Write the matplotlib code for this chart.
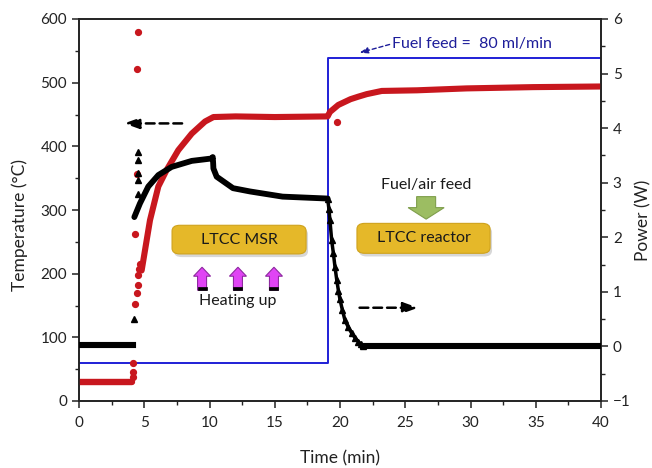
import matplotlib
matplotlib.use('Agg')
import matplotlib.pyplot as plt
import matplotlib.transforms as mtransforms
from matplotlib.patches import FancyBboxPatch, Polygon
from matplotlib.ticker import MultipleLocator

plt.rcParams['font.family'] = ['Lato', 'DejaVu Sans']

# ---------------- data ----------------
# Temperature (°C), left axis
temp_base_t = [0, 0.5, 1, 1.5, 2, 2.5, 3, 3.5, 4.05]
temp_base_v = [30, 30, 30, 30, 30, 30, 30, 30, 30]
temp_jump_t = [4.1, 4.15, 4.16, 4.29, 4.42, 4.5, 4.55, 4.62, 4.7, 4.29, 4.42, 4.47, 4.55]
temp_jump_v = [38, 45, 59, 153, 169, 182, 198, 208, 215, 263, 357, 521, 580]
temp_rise_t = [4.8, 4.93, 5.44, 6.08, 6.72, 7.61, 8.64, 9.66, 10.3, 12, 15, 19.05]
temp_rise_v = [205, 221, 284, 337, 363, 394, 420, 439, 446, 447, 446, 447]
temp_feed_t = [19.1, 19.23, 19.87, 20.8, 21.4, 22.05, 23.2, 25.9, 29.7, 34.8, 40]
temp_feed_v = [449, 454, 465, 474, 478, 482, 487, 488, 491, 493, 494]
temp_out_t = [19.8]
temp_out_v = [438]

# Power (W), right axis
pow_base_t = [0, 0.5, 1, 1.5, 2, 2.5, 3, 3.5, 4.1]
pow_base_v = [0.02, 0.02, 0.02, 0.02, 0.02, 0.02, 0.02, 0.02, 0.02]
pow_spike_t = [4.2, 4.55, 4.55, 4.5, 4.55, 4.55]
pow_spike_v = [0.5, 2.80, 3.05, 3.18, 3.41, 3.56]
pow_heat_t = [4.24, 4.67, 5.31, 6.08, 7.1, 8.64, 10.2, 10.25, 10.28, 10.3, 10.55, 11.8, 13.1, 15.6, 19.05]
pow_heat_v = [2.37, 2.62, 2.93, 3.14, 3.29, 3.40, 3.445, 3.47, 3.36, 3.26, 3.11, 2.90, 2.84, 2.745, 2.71]
pow_drop_t = [19.05, 19.15, 19.23, 19.36, 19.49, 19.62, 19.75, 19.88, 20.0, 20.19, 20.38, 20.64, 20.9, 21.15, 21.4, 21.6, 21.8]
pow_drop_v = [2.71, 2.52, 2.31, 1.95, 1.71, 1.45, 1.22, 1.02, 0.86, 0.66, 0.48, 0.35, 0.24, 0.16, 0.09, 0.04, 0.01]
pow_tail_t = [21.8, 25, 30, 35, 40]
pow_tail_v = [0.01, 0.01, 0.01, 0.01, 0.01]

# Fuel feed indicator (drawn on the temperature scale)
feed_t = [0, 19.05, 40]
feed_v = [60, 539, 539]

RED = '#c8171e'
BLUE = '#1f1fd6'
TXTBLUE = '#1d1d9a'
INK = '#222222'

fig = plt.figure(figsize=(6.52, 4.68), dpi=100)
ax = fig.add_axes([79/652, 1-401/468, (601-79)/652, (401-19)/468])
ax2 = ax.twinx()

ax.plot(feed_t, feed_v, drawstyle='steps-post', color=BLUE, lw=1.4, zorder=1)

ax.plot(temp_base_t, temp_base_v, color=RED, lw=4.6, solid_capstyle='round', zorder=3)
ax.plot(temp_rise_t, temp_rise_v, color=RED, lw=4.4, solid_capstyle='round', zorder=3)
ax.plot(temp_feed_t, temp_feed_v, color=RED, lw=4.4, solid_capstyle='round', zorder=3)
ax.plot(temp_jump_t, temp_jump_v, 'o', color=RED, ms=4.2, mec=RED, zorder=3)
ax.plot(temp_out_t, temp_out_v, 'o', color=RED, ms=4.2, zorder=3)

ax2.plot(pow_base_t, pow_base_v, color='black', lw=4.4, zorder=4)
ax2.plot(pow_heat_t, pow_heat_v, color='black', lw=4.2, solid_capstyle='round',
         solid_joinstyle='round', zorder=4)
ax2.plot(pow_drop_t, pow_drop_v, color='black', lw=2.5, marker='^', ms=4.6, zorder=4)
ax2.plot(pow_tail_t, pow_tail_v, color='black', lw=4.4, zorder=4)
ax2.plot(pow_spike_t, pow_spike_v, '^', color='black', ms=4.6, zorder=4)

ax.set_xlim(0, 40)
ax.set_ylim(0, 600)
ax2.set_ylim(-1, 6)

ax.xaxis.set_major_locator(MultipleLocator(5))
ax.xaxis.set_minor_locator(MultipleLocator(2.5))
ax.yaxis.set_major_locator(MultipleLocator(100))
ax.yaxis.set_minor_locator(MultipleLocator(50))
ax2.yaxis.set_major_locator(MultipleLocator(1))
ax2.yaxis.set_minor_locator(MultipleLocator(0.5))

for a in (ax, ax2):
    for s in a.spines.values():
        s.set_linewidth(1.2)
        s.set_color(INK)
    a.tick_params(which='major', direction='out', length=5, width=1.1, color=INK,
                  labelsize=11, labelcolor=INK)
    a.tick_params(which='minor', direction='out', length=3, width=1.0, color=INK)
ax.tick_params(axis='x', which='major', pad=6)
ax2.tick_params(axis='y', which='both', right=True, left=False)

fig.text(340/652, 1-458/468, 'Time (min)', ha='center', va='center', fontsize=12.5, color=INK)
fig.text(20/652, 1-225/468, 'Temperature (°C)', rotation=90, ha='center', va='center',
         fontsize=12.5, color=INK)
fig.text(643/652, 1-220/468, 'Power (W)', rotation=90, ha='center', va='center',
         fontsize=12.5, color=INK)

T = ax.transData

def shape_at(xd, yd, verts_px, **kw):
    # vertices in pixels relative to a data anchor
    tr = mtransforms.Affine2D().scale(1/100.0) + fig.dpi_scale_trans + \
        mtransforms.ScaledTranslation(xd, yd, T)
    p = Polygon(verts_px, closed=True, transform=tr, **kw)
    ax2.add_patch(p)
    return p

# gold boxes
def gold_box(x0, y0, x1, y1, label):
    sh = FancyBboxPatch((x0 + 0.15, y0 - 5), x1 - x0, y1 - y0,
                        boxstyle='round,pad=0,rounding_size=0.6', mutation_aspect=15,
                        transform=T, facecolor='#b0b0b0', edgecolor='none', alpha=0.5, zorder=5)
    ax2.add_patch(sh)
    b = FancyBboxPatch((x0, y0), x1 - x0, y1 - y0,
                       boxstyle='round,pad=0,rounding_size=0.6', mutation_aspect=15,
                       transform=T, facecolor='#e5b829', edgecolor='#cfa21c', lw=0.8, zorder=6)
    ax2.add_patch(b)
    ax2.text((x0 + x1) / 2, (y0 + y1) / 2, label, transform=T, ha='center', va='center',
             fontsize=11.5, color='#1a1a1a', zorder=7)

gold_box(7.13, 231, 17.4, 276, 'LTCC MSR')
gold_box(21.3, 232, 31.5, 279, 'LTCC reactor')

# magenta heating arrows
up_arrow = [(-4.5, 0), (4.5, 0), (4.5, 14), (8.5, 14), (0, 23), (-8.5, 14), (-4.5, 14)]
bar = [(-4.5, 0), (4.5, 0), (4.5, 3), (-4.5, 3)]
for xa in [9.43, 12.18, 14.94]:
    shape_at(xa, 174, up_arrow, facecolor='#e044f4', edgecolor='#8e2aa0', lw=0.8, zorder=6)
    shape_at(xa, 174, bar, facecolor='black', edgecolor='black', lw=0.5, zorder=7)
ax2.text(12.18, 157, 'Heating up', transform=T, ha='center', va='center', fontsize=11.5,
         color='#1a1a1a', zorder=7)

# green feed arrow
down_arrow = [(-9.5, 0), (9.5, 0), (9.5, -11), (18, -11), (0, -22.5), (-18, -11), (-9.5, -11)]
shape_at(26.6, 321, down_arrow, facecolor='#9cbd62', edgecolor='#7f9e4c', lw=0.8, zorder=6)
ax2.text(26.64, 340, 'Fuel/air feed', transform=T, ha='center', va='center', fontsize=11.5,
         color='#1a1a1a', zorder=7)

# dashed arrows
ax2.annotate('', xy=(3.45, 436), xytext=(7.9, 436), xycoords=T, textcoords=T,
             arrowprops=dict(arrowstyle='-|>,head_length=0.9,head_width=0.32', color='black',
                             lw=1.8, linestyle=(0, (3.5, 2)), shrinkA=0, shrinkB=0), zorder=8)
ax2.annotate('', xy=(26.0, 146.5), xytext=(21.5, 146.5), xycoords=T, textcoords=T,
             arrowprops=dict(arrowstyle='-|>,head_length=0.9,head_width=0.32', color='black',
                             lw=1.8, linestyle=(0, (3.5, 2)), shrinkA=0, shrinkB=0), zorder=8)
ax2.annotate('', xy=(21.5, 547), xytext=(23.8, 560), xycoords=T, textcoords=T,
             arrowprops=dict(arrowstyle='-|>,head_length=0.5,head_width=0.18', color=TXTBLUE,
                             lw=1.0, linestyle=(0, (3, 2)), shrinkA=0, shrinkB=0), zorder=8)
ax2.text(24.0, 561, 'Fuel feed =  80 ml/min', transform=T, ha='left', va='center',
         fontsize=11.5, color=TXTBLUE, zorder=8)

fig.savefig('out.png', dpi=100)
